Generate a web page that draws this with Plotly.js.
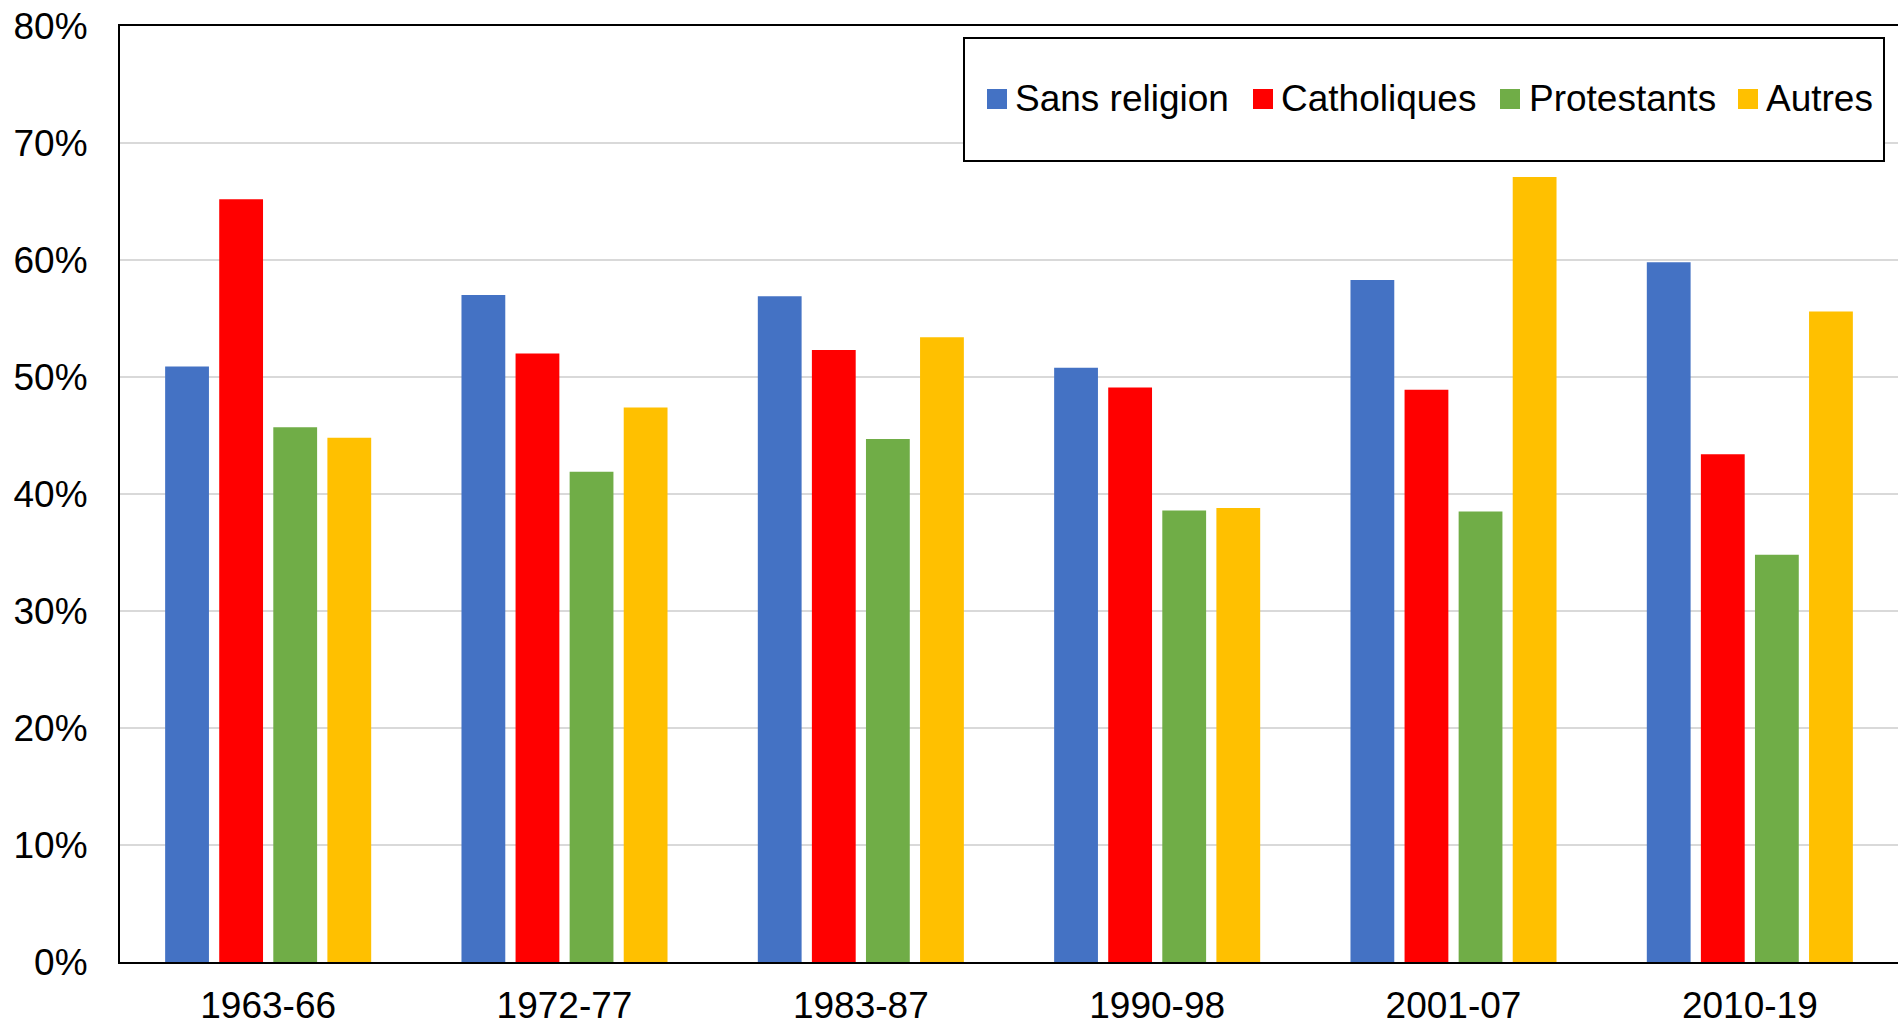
<!DOCTYPE html>
<html>
<head>
<meta charset="utf-8">
<script src="https://cdn.plot.ly/plotly-3.0.1.min.js"></script>
<style>html,body{margin:0;padding:0;background:#fff;}#chart{width:1898px;height:1024px;}</style>
</head>
<body>
<div id="chart"></div>
<script>
const periods = ["1963-66", "1972-77", "1983-87", "1990-98", "2001-07", "2010-19"];
const seriesNames = ["Sans religion", "Catholiques", "Protestants", "Autres"];
const sansReligion = [0.509, 0.570, 0.569, 0.508, 0.583, 0.598];
const catholiques = [0.652, 0.520, 0.523, 0.491, 0.489, 0.434];
const protestants = [0.457, 0.419, 0.447, 0.386, 0.385, 0.348];
const autres = [0.448, 0.474, 0.534, 0.388, 0.671, 0.556];
const colors = ["#4472C4", "#FF0000", "#70AD47", "#FFC000"];
const yTickVals = [0, 0.1, 0.2, 0.3, 0.4, 0.5, 0.6, 0.7, 0.8];

const W = 1898, H = 1024;
const M = {l: 120, r: 0, t: 26, b: 62};
const plotW = W - M.l - M.r, plotH = H - M.t - M.b;
const px = x => (x - M.l) / plotW;
const py = y => (H - M.b - y) / plotH;

const values = [sansReligion, catholiques, protestants, autres];
const traces = values.map((v, i) => ({
  type: "bar",
  name: seriesNames[i],
  x: periods,
  y: v,
  marker: {color: colors[i]},
  showlegend: false,
  hoverinfo: "x+y+name"
}));

const font = {family: "Liberation Sans, Arial, sans-serif", size: 37, color: "#000"};

// custom legend (box, swatches, labels)
const swatchLeft = [987, 1253, 1500, 1738];
const textLeft = [1013, 1279, 1527, 1764];
const legendY = 99;
const shapes = [{
  type: "rect", xref: "paper", yref: "paper",
  x0: px(964), x1: px(1884), y0: py(161), y1: py(38),
  line: {color: "#000", width: 2},
  fillcolor: "#fff",
  layer: "above"
}];
const annotations = [];
seriesNames.forEach((n, i) => {
  shapes.push({
    type: "rect", xref: "paper", yref: "paper",
    x0: px(swatchLeft[i]), x1: px(swatchLeft[i] + 20),
    y0: py(legendY + 10), y1: py(legendY - 10),
    line: {width: 0}, fillcolor: colors[i], layer: "above"
  });
  annotations.push({
    xref: "paper", yref: "paper",
    x: px(textLeft[i]), y: py(legendY),
    xanchor: "left", yanchor: "middle",
    text: n, showarrow: false, font: font
  });
});

const layout = {
  width: W,
  height: H,
  margin: {l: M.l, r: M.r, t: M.t, b: M.b, pad: 0},
  paper_bgcolor: "#fff",
  plot_bgcolor: "#fff",
  font: font,
  barmode: "group",
  bargap: 0.27,
  bargroupgap: 0.19,
  showlegend: false,
  shapes: shapes,
  annotations: annotations,
  xaxis: {
    type: "category",
    showline: true, mirror: true,
    linecolor: "#000", linewidth: 2,
    showgrid: false, ticks: "",
    tickfont: font,
    ticklabelstandoff: 10,
    zeroline: false
  },
  yaxis: {
    range: [0, 0.8],
    tickvals: yTickVals,
    tickformat: ".0%",
    showline: true, linecolor: "#000", linewidth: 2,
    showgrid: true, gridcolor: "#d9d9d9", gridwidth: 2,
    ticks: "",
    tickfont: font,
    ticklabelstandoff: 23,
    zeroline: false
  }
};

Plotly.newPlot("chart", traces, layout, {displayModeBar: false, staticPlot: true});
</script>
</body>
</html>
